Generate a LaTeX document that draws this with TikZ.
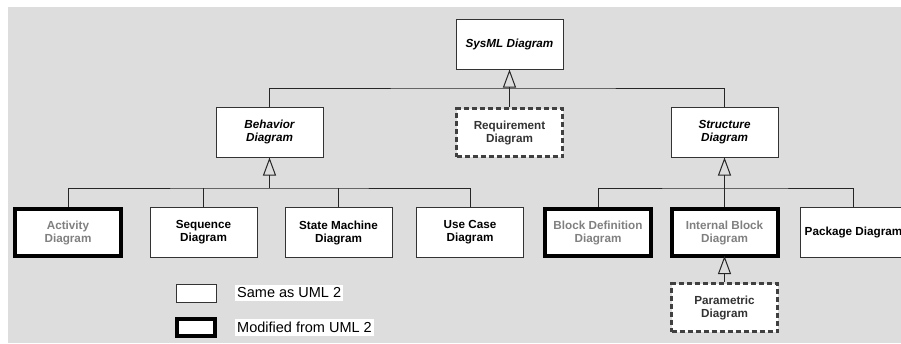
\documentclass[tikz,border=0pt]{standalone}
\usepackage{fontspec}
\setmainfont{Liberation Sans}
\usetikzlibrary{arrows.meta}
\definecolor{bggray}{HTML}{DDDDDD}
\tikzset{
  dgm/.style={draw=black!80, line width=1pt, fill=white, minimum width=107pt, minimum height=50pt,
    inner sep=0pt, align=center, font=\bfseries\fontsize{11.7}{13}\selectfont},
  moddgm/.style={dgm, draw=black, line width=4pt, minimum width=106pt, minimum height=47pt, text=black!50},
  newdgm/.style={dgm, draw=black!75, line width=3pt, dash pattern=on 5pt off 3pt,
    minimum width=106pt, minimum height=48pt, text=black!80},
  abstr/.style={font=\bfseries\itshape\fontsize{11.7}{13}\selectfont},
  conn/.style={black!85, line width=1pt},
  gen/.style={conn, -{Triangle[open, length=18pt, width=13pt]}},
  legtext/.style={fill=white, inner xsep=2pt, inner ysep=3pt, anchor=west, font=\fontsize{14.5}{16}\selectfont},
}
\begin{document}
\begin{tikzpicture}[x=1pt, y=-1pt]
  \useasboundingbox (0,0) rectangle (901,343);
  \fill[bggray] (8,7) rectangle (901,343);

  \node[dgm, abstr] (sysml) at (509.5,44) {SysML Diagram};
  \node[dgm, abstr] (behav) at (269.5,132) {Behavior\\Diagram};
  \node[newdgm] (req) at (509.5,132.5) {Requirement\\Diagram};
  \node[dgm, abstr] (struct) at (724.5,132) {Structure\\Diagram};

  \node[moddgm] (act) at (68,232.5) {Activity\\Diagram};
  \node[dgm] (seq) at (203.5,232.5) {Sequence\\Diagram};
  \node[dgm] (stm) at (338.5,232.5) {State Machine\\Diagram};
  \node[dgm] (uc) at (470,232.5) {Use Case\\Diagram};
  \node[moddgm] (bdd) at (598,232.5) {Block Definition\\Diagram};
  \node[moddgm] (ibd) at (724.5,232.5) {Internal Block\\Diagram};
  \node[dgm] (pkg) at (853.5,232.5) {Package Diagram};
  \node[newdgm] (par) at (724.5,307.5) {Parametric\\Diagram};

  \coordinate (topbus) at (509.5,88);
  \coordinate (behbus) at (269.5,188);
  \coordinate (strbus) at (724.5,188);

  \draw[conn] (behav.north) |- (topbus) -| (struct.north);
  \draw[gen] (req.north) -- (sysml.south);

  \draw[conn] (act.north) |- (behbus) -| (uc.north);
  \foreach \n in {seq, stm} \draw[conn] (\n.north) -- (\n.north |- behbus);
  \draw[gen] (behbus) -- (behav.south);

  \draw[conn] (bdd.north) |- (strbus) -| (pkg.north);
  \draw[gen] (ibd.north) -- (struct.south);
  \draw[gen] (par.north) -- ([yshift=2pt]ibd.south);

  \node[dgm, minimum width=40pt, minimum height=18pt] (samebox) at (196,293) {};
  \node[moddgm, minimum width=38pt, minimum height=17pt] (modbox) at (196,327.5) {};
  \node[legtext] (sametext) at (235,293) {Same as UML 2};
  \node[legtext] (modtext) at (235,327.5) {Modified from UML 2};
\end{tikzpicture}
\end{document}
